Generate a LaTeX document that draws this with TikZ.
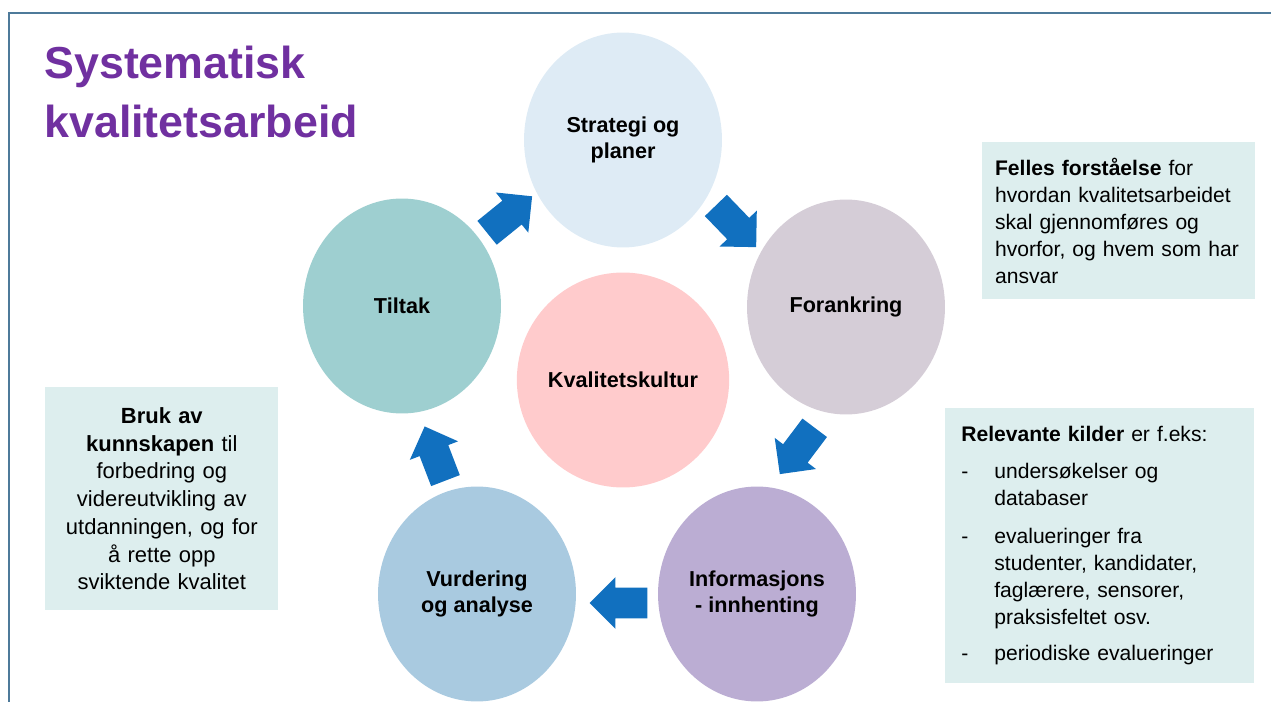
\documentclass[tikz,border=0pt]{standalone}
\usepackage{fontspec}
\setmainfont{Liberation Sans}
\usetikzlibrary{shapes,arrows,calc,positioning}

\definecolor{titlepurple}{HTML}{7030A0}
\definecolor{framecol}{HTML}{4E7A9A}
\definecolor{arrowblue}{HTML}{1170BF}
\definecolor{boxcol}{HTML}{DDEEEE}
\definecolor{strategicol}{HTML}{DEEBF5}
\definecolor{forankcol}{HTML}{D5CDD7}
\definecolor{infocol}{HTML}{BBADD3}
\definecolor{vurdcol}{HTML}{A9CAE0}
\definecolor{tiltakcol}{HTML}{9ECFD0}
\definecolor{kulturcol}{HTML}{FFCBCC}

\begin{document}
\begin{tikzpicture}[x=0.02cm, y=-0.02cm, text=black,
  phase/.style={ellipse, minimum width=3.96cm, minimum height=4.3cm, inner sep=0pt, align=center, font=\bfseries\fontsize{12.3}{14.7}\selectfont},
  cyclearrow/.style={single arrow, fill=arrowblue, inner xsep=0pt, inner ysep=0.3cm, minimum width=1.02cm, minimum height=1.16cm, single arrow head extend=0.21cm, anchor=tip},
  infobox/.style={fill=boxcol, anchor=north west, inner xsep=0.32cm, inner ysep=0pt, font=\fontsize{12}{15.4}\selectfont}]
\useasboundingbox (0,0) rectangle (1271,702);

%Frame
\draw[framecol, line width=1.2pt] (9,702) -- (9,13) -- (1271,13);

%Title
\node[anchor=north west, inner sep=0pt, align=left, text=titlepurple, font=\bfseries\fontsize{25.5}{33.5}\selectfont] (title) at (44,46) {Systematisk\\kvalitetsarbeid};

%Phases of the cycle
\node[phase, fill=strategicol] (strategi) at (623,140) {Strategi og\\planer};
\node[phase, fill=forankcol] (forankring) at (846,307) {Forankring};
\node[phase, fill=infocol] (info) at (757,594) {Informasjons\\- innhenting};
\node[phase, fill=vurdcol] (vurdering) at (477,594) {Vurdering\\og analyse};
\node[phase, fill=tiltakcol] (tiltak) at (402,306) {Tiltak};

%Centre
\node[phase, fill=kulturcol, minimum width=4.2cm] (kultur) at (623,380) {Kvalitetskultur};

%Arrows between phases, tip placed next to the next phase
\foreach \from/\to/\ang/\dx/\dy in {tiltak/strategi/39/20/-27, strategi/forankring/-46/22/24, forankring/info/-127/-22/24, info/vurdering/180/-28/9, vurdering/tiltak/111/-15/-24}
  \node[cyclearrow, rotate=\ang] (arr-\from) at ($(\from)!0.5!(\to)+(\dx,\dy)$) {};

%Text boxes
\node[infobox, inner xsep=0.255cm, text width=4.95cm, minimum height=3.14cm, align=left] (felles) at (982,142)
  {\textbf{Felles forståelse} for\\hvordan kvalitetsarbeidet\\skal gjennomføres og\\hvorfor, og hvem som har\\ansvar};

\node[infobox, text width=5.54cm, minimum height=5.5cm, align=left] (kilder) at (945,408)
  {\textbf{Relevante kilder} er f.eks:\\[0.2cm]
   \makebox[0.66cm][l]{-}undersøkelser og\\
   \hspace*{0.66cm}databaser\\[0.22cm]
   \makebox[0.66cm][l]{-}evalueringer fra\\
   \hspace*{0.66cm}studenter, kandidater,\\
   \hspace*{0.66cm}faglærere, sensorer,\\
   \hspace*{0.66cm}praksisfeltet osv.\\[0.18cm]
   \makebox[0.66cm][l]{-}periodiske evalueringer};

\node[infobox, inner xsep=0.2cm, text width=4.26cm, minimum height=4.46cm, align=center, font=\fontsize{12.5}{15.8}\selectfont] (bruk) at (45,387)
  {\textbf{Bruk av}\\\textbf{kunnskapen} til\\forbedring og\\videreutvikling av\\utdanningen, og for\\å rette opp\\sviktende kvalitet};

\end{tikzpicture}
\end{document}
